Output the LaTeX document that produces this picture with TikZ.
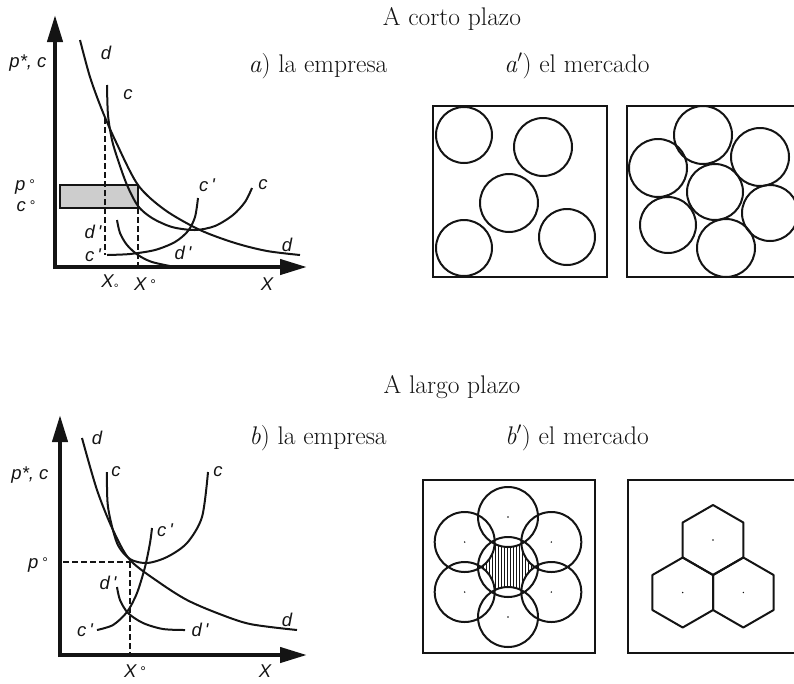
\documentclass[tikz,border=0pt]{standalone}
\usepackage{fontspec}
\usepackage{tikz}
\usetikzlibrary{arrows.meta}
\newfontfamily\etiqfont{Liberation Sans}
\definecolor{tinta}{RGB}{20,20,20}
\definecolor{grisclaro}{RGB}{205,205,205}
\tikzset{
  eje/.style={line width=4.2pt,tinta,-{Triangle[length=27pt,width=15pt]}},
  curva/.style={line width=2pt,tinta},
  guia/.style={line width=1.6pt,tinta,dash pattern=on 6pt off 3pt},
  caja/.style={line width=2pt,tinta},
  circulo/.style={line width=2pt,tinta},
  rayado/.style={line width=0.9pt,tinta},
  punto/.style={fill=tinta},
  etiq/.style={font=\etiqfont\itshape\fontsize{18.5}{20}\selectfont,inner sep=0pt,text=tinta},
  titulo/.style={font=\fontsize{25.5}{28}\selectfont,inner sep=0pt,anchor=base,text=tinta},
}
\newcommand{\gsup}{\raisebox{1pt}{\fontsize{14}{14}\selectfont\upshape\ \textdegree}}
\newcommand{\gsub}{\raisebox{-5pt}{\fontsize{12}{12}\selectfont\upshape \textdegree}}

\begin{document}
\begin{tikzpicture}[x=1pt,y=-1pt]
  \path[use as bounding box,clip] (0,0) rectangle (794,683);

  % titulos
  \node[titulo] (cortoT) at (452,25) {A corto plazo};
  \node[titulo] (empresaA) at (318,72) {\textit{a}) la empresa};
  \node[titulo] (mercadoA) at (577,72) {\textit{a}$'$) el mercado};
  \node[titulo] (largoT) at (452,393) {A largo plazo};
  \node[titulo] (empresaB) at (318,444) {\textit{b}) la empresa};
  \node[titulo] (mercadoB) at (577,444) {\textit{b}$'$) el mercado};

  % a) corto plazo, la empresa
  \filldraw[caja,fill=grisclaro] (60,185) rectangle (138,208);
  \draw[guia] (105,118) -- (105,255);
  \draw[guia] (138,208) -- (138,267);
  \draw[eje] (55,269) -- (55,15);
  \draw[eje] (53,267) -- (307,267);
  \draw[curva] plot[smooth] coordinates {(80,40) (90,77) (102,110) (116,142) (138,185) (165,210) (200,230) (235,243) (267,251) (300,255)};
  \draw[curva] plot[smooth] coordinates {(107,85) (108,115) (112,140) (118,160) (127,185) (138,206) (152,218) (172,227) (195,230) (215,226) (233,215) (245,202) (252,188)};
  \draw[curva] plot[smooth] coordinates {(107,255) (130,254) (155,250) (175,242) (188,231) (195,217) (198,198)};
  \draw[curva] plot[smooth] coordinates {(117,220) (120,233) (127,245) (138,255) (152,262) (175,267)};
  \node[etiq] (pcA) at (28,63) {p*, c};
  \node[etiq] (pgA) at (25,187) {p\gsup};
  \node[etiq] (cgA) at (26,206) {c\gsup};
  \node[etiq] (dA1) at (106,53) {d};
  \node[etiq] (cA1) at (128,95) {c};
  \node[etiq] (cpA1) at (207,185) {c\,'};
  \node[etiq] (cA2) at (263,185) {c};
  \node[etiq] (dA2) at (287,245) {d};
  \node[etiq] (dpA1) at (183,253) {d\,'};
  \node[etiq] (dpA2) at (93,232) {d\,'};
  \node[etiq] (cpA2) at (93,255) {c\,'};
  \node[etiq] (xsA) at (110,284) {X\gsub};
  \node[etiq] (xgA) at (145,284) {X\gsup};
  \node[etiq] (xA) at (267,284) {X};

  % a') corto plazo, el mercado
  \draw[caja] (433,106) rectangle (607,277);
  \draw[caja] (627,106) rectangle (820,277);
  \foreach \cx/\cy/\r in {464/135/28,543/147/29,509/203/29,464/248/28,567/237/28,
    703/135/29,658/168/29,760/157/29,715/192/28,668/225/28,770/213/28,726/248/29}
    \draw[circulo] (\cx,\cy) circle (\r);

  % b) largo plazo, la empresa
  \draw[guia] (63,562) -- (130,562);
  \draw[guia] (130,562) -- (130,657);
  \draw[eje] (60,657) -- (60,415);
  \draw[eje] (58,655) -- (307,655);
  \draw[curva] plot[smooth] coordinates {(82,438) (97,490) (113,530) (130,560) (160,583) (187,600) (217,613) (250,624) (297,630)};
  \draw[curva] plot[smooth] coordinates {(107,472) (108,507) (117,543) (130,559) (147,563) (167,557) (187,543) (202,517) (208,472)};
  \draw[curva] plot[smooth] coordinates {(97,630) (113,625) (127,612) (137,593) (145,567) (150,543) (152,528)};
  \draw[curva] plot[smooth] coordinates {(117,587) (120,600) (128,613) (143,623) (163,629) (185,630)};
  \node[etiq] (dB1) at (97,438) {d};
  \node[etiq] (pcB) at (30,475) {p*, c};
  \node[etiq] (cB1) at (116,472) {c};
  \node[etiq] (cB2) at (218,472) {c};
  \node[etiq] (cpB1) at (165,530) {c\,'};
  \node[etiq] (pgB) at (38,565) {p\gsup};
  \node[etiq] (dpB1) at (108,583) {d\,'};
  \node[etiq] (cpB2) at (85,630) {c\,'};
  \node[etiq] (dpB2) at (200,630) {d\,'};
  \node[etiq] (dB2) at (287,620) {d};
  \node[etiq] (xgB) at (135,671) {X\gsup};
  \node[etiq] (xB) at (265,671) {X};

  % b') largo plazo, el mercado
  \draw[caja] (423,480) rectangle (595,653);
  \draw[caja] (628,480) rectangle (820,653);
  \begin{scope}[even odd rule]
    \clip (508,567) circle (30);
    \clip (470,530) rectangle (546,604) (508,517) circle (30);
    \clip (470,530) rectangle (546,604) (508,617) circle (30);
    \clip (470,530) rectangle (546,604) (465,542) circle (30);
    \clip (470,530) rectangle (546,604) (551,542) circle (30);
    \clip (470,530) rectangle (546,604) (465,592) circle (30);
    \clip (470,530) rectangle (546,604) (551,592) circle (30);
    \foreach \x in {480,483,...,536}
      \draw[rayado] (\x,535) -- (\x,600);
  \end{scope}
  \foreach \a in {90,150,210,270,330,30} {
    \draw[circulo] (508,567) ++(\a:50) circle (30);
    \fill[punto] (508,567) ++(\a:50) circle (0.8);
  }
  \draw[circulo] (508,567) circle (30);
  \foreach \cx/\cy in {713/540,682.7/592.5,743.3/592.5} {
    \draw[circulo,line join=round] (\cx,\cy) ++(90:35) -- ++(210:35) -- ++(270:35)
      -- ++(330:35) -- ++(30:35) -- ++(90:35) -- cycle;
    \fill[punto] (\cx,\cy) circle (0.8);
  }
\end{tikzpicture}
\end{document}
